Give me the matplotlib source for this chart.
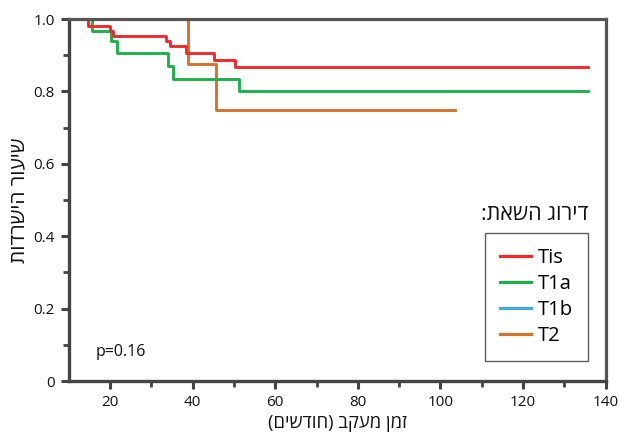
import matplotlib
matplotlib.use("Agg")
import matplotlib.pyplot as plt
from matplotlib.ticker import FixedLocator

plt.rcParams['font.family'] = ['Open Sans', 'DejaVu Sans']

# Data (Kaplan-Meier steps)
tis_t = [10, 14.7, 20.0, 20.7, 33.5, 34.5, 38.4, 45.2, 50.2, 135.6]
tis_s = [1.0, 0.98, 0.967, 0.953, 0.939, 0.926, 0.906, 0.887, 0.868, 0.868]
t1a_t = [10, 15.6, 20.2, 21.7, 34.0, 35.2, 51.2, 135.6]
t1a_s = [1.0, 0.967, 0.94, 0.905, 0.87, 0.835, 0.80, 0.80]
t1b_t = [10, 100]
t1b_s = [1.0, 1.0]
t2_t = [10, 38.9, 45.6, 103.6]
t2_s = [1.0, 0.875, 0.75, 0.75]

labels = ["Tis", "T1a", "T1b", "T2"]
colors = ["#ee2b2b", "#1fb04b", "#3fa9e0", "#d3732f"]

x_ticks = [20, 40, 60, 80, 100, 120, 140]
y_ticks = [0, 0.2, 0.4, 0.6, 0.8, 1.0]
y_ticklabels = ["0", "0.2", "0.4", "0.6", "0.8", "1.0"]

def vis(s):
    # logical RTL string -> visual LTR order
    r = s[::-1]
    return r.translate(str.maketrans("()", ")("))

fig = plt.figure(figsize=(6.19, 4.37), dpi=100)
ax = fig.add_axes([0.111, 0.128, 0.8675, 0.8285])

series = [(tis_t, tis_s), (t1a_t, t1a_s), (t1b_t, t1b_s), (t2_t, t2_s)]
order = [2, 3, 1, 0]
handles = {}
for i in order:
    t, s = series[i]
    h, = ax.step(t, s, where='post', color=colors[i], lw=2.1, label=labels[i],
                 zorder=1 if i == 2 else 2)
    handles[i] = h

ax.set_xlim(10, 140)
ax.set_ylim(0, 1.0)
ax.set_xticks(x_ticks)
ax.xaxis.set_minor_locator(FixedLocator([30, 50, 70, 90, 110, 130]))
ax.set_yticks(y_ticks)
ax.set_yticklabels(y_ticklabels)
ax.yaxis.set_minor_locator(FixedLocator([0.1, 0.3, 0.5, 0.7, 0.9]))

for side in ['left', 'bottom']:
    ax.spines[side].set_linewidth(2.4)
    ax.spines[side].set_color('#444444')
for side in ['top', 'right']:
    ax.spines[side].set_linewidth(2.3)
    ax.spines[side].set_color('#555555')
for sp in ax.spines.values():
    sp.set_zorder(5)

ax.tick_params(axis='both', which='major', direction='out', length=6, width=2.2,
               color='#444444', labelsize=11, pad=4, labelcolor='#111111')
ax.tick_params(axis='both', which='minor', direction='out', length=4, width=2.0,
               color='#444444')

ax.set_xlabel(vis("זמן מעקב (חודשים)"), fontsize=13.2, labelpad=3, color='#111111')
ax.set_ylabel(vis("שיעור הישרדות"), fontsize=15, labelpad=3, color='#111111')

ax.text(16.5, 0.08, "p=0.16", fontsize=11.5, color='#111111', va='center', ha='left')

ax.text(0.967, 0.46, vis("דירוג השאת:"), transform=ax.transAxes, fontsize=15.5,
        ha='right', va='center', color='#111111')

leg = ax.legend([handles[i] for i in range(4)], labels, loc='upper right',
                bbox_to_anchor=(0.967, 0.41), fontsize=14.5, frameon=True,
                fancybox=False, edgecolor='#333333', handlelength=1.5,
                handletextpad=0.35, labelspacing=0.3, borderpad=0.75,
                borderaxespad=0)
leg.get_frame().set_linewidth(1.0)
for line in leg.get_lines():
    line.set_linewidth(2.3)

fig.savefig("out.png", dpi=100)
